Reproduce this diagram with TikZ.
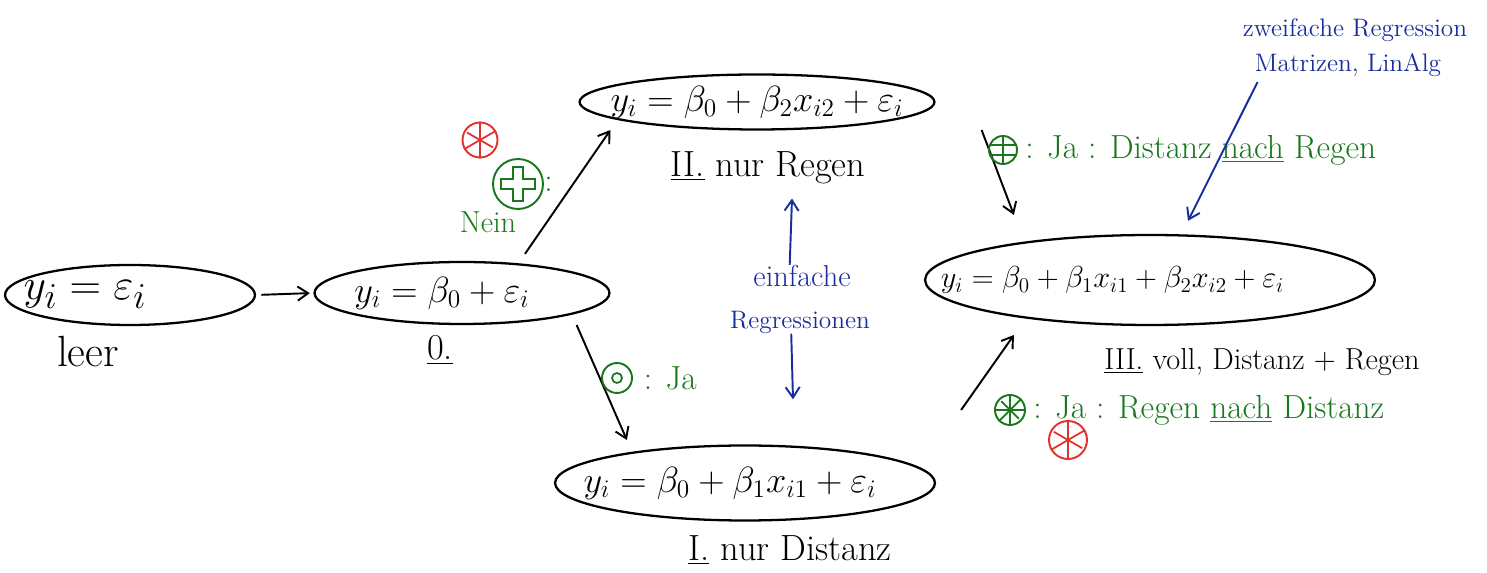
\documentclass[tikz,border=0pt]{standalone}
\usetikzlibrary{shapes.geometric,arrows.meta}
\definecolor{inkblue}{RGB}{25,45,155}
\definecolor{inkgreen}{RGB}{25,120,30}
\definecolor{inkred}{RGB}{225,50,45}
\tikzset{
  eqn/.style={ellipse, draw, line width=1.3pt, inner xsep=-4cm, inner ysep=-1cm, font=\huge},
  lbl/.style={font=\huge, inner sep=0pt},
  green note/.style={text=inkgreen, font=\fontsize{19}{22}\selectfont, inner sep=0pt},
  blue note/.style={text=inkblue, font=\Large, inner sep=0pt},
  ring/.style={circle, draw, line width=1.1pt, inner sep=0pt, minimum size=#1},
  flow/.style={-{Straight Barb[length=6pt,width=8pt]}, line width=1.1pt},
}
\begin{document}
\begin{tikzpicture}[x=0.02cm, y=-0.02cm]
  \useasboundingbox (0,0) rectangle (1487,573);
  % models
  \node[eqn, font=\Huge, minimum width=5cm, minimum height=1.2cm] (e0) at (130,295) {$y_i = \varepsilon_i$\hspace{1.8cm}\mbox{}};
  \node[eqn, minimum width=5.9cm, minimum height=1.24cm] (e1) at (462,293) {$y_i = \beta_0 + \varepsilon_i$\hspace{0.8cm}\mbox{}};
  \node[eqn, minimum width=7.1cm, minimum height=1.1cm] (e2) at (757,102) {$y_i = \beta_0 + \beta_2 x_{i2} + \varepsilon_i$};
  \node[eqn, minimum width=7.6cm, minimum height=1.5cm] (e3) at (745,483) {$y_i = \beta_0 + \beta_1 x_{i1} + \varepsilon_i$\hspace{0.6cm}\mbox{}};
  \node[eqn, font=\LARGE, minimum width=9cm, minimum height=1.8cm] (e4) at (1150,280) {$y_i = \beta_0 + \beta_1 x_{i1} + \beta_2 x_{i2} + \varepsilon_i$\hspace{1.5cm}\mbox{}};
  % labels
  \node[lbl, font=\Huge] (l0) at (88,352) {leer};
  \node[lbl] (l1) at (440,350) {\underline{0.}};
  \node[lbl] (l2) at (768,168) {\underline{II.} nur Regen};
  \node[lbl] (l3) at (790,550) {\underline{I.} nur Distanz};
  \node[lbl, font=\LARGE] (l4) at (1262,362) {\underline{III.} voll, Distanz + Regen};
  % arrows
  \draw[flow, shorten <=3pt, shorten >=2pt] (e0.east) -- (e1.west);
  \draw[flow] ([shift={(63,-7)}]e1.north) -- ([shift={(32,28)}]e2.west);
  \draw[flow] ([shift={(-34,32)}]e1.east) -- ([shift={(73,-43)}]e3.west);
  \draw[flow] ([shift={(46,28)}]e2.east) -- ([shift={(90,-65)}]e4.west);
  \draw[flow] ([shift={(25,-73)}]e3.east) -- ([shift={(90,55)}]e4.west);
  % upper left: Nein
  \node[ring=0.7cm, inkred] (r1) at (480,140) {};
  \draw[inkred, line width=1pt, shorten <=2pt, shorten >=2pt] (r1.90) -- (r1.270) (r1.30) -- (r1.210) (r1.150) -- (r1.330);
  \node[ring=1cm, inkgreen] (p1) at (518,184) {};
  \draw[inkgreen, line width=1pt] (p1.center) ++(-5,-17) -- ++(10,0) -- ++(0,12) -- ++(12,0) -- ++(0,10) -- ++(-12,0) -- ++(0,12) -- ++(-10,0) -- ++(0,-12) -- ++(-12,0) -- ++(0,-10) -- ++(12,0) -- cycle;
  \node[green note, anchor=west] (c1) at (p1.east) {:};
  \node[green note, font=\LARGE] (n1) at (488,222) {Nein};
  % lower left: Ja
  \node[ring=0.6cm, inkgreen] (d1) at (617,378) {};
  \draw[inkgreen, line width=1pt] (d1.center) circle (5);
  \node[green note, anchor=west] (j1) at ([xshift=6]d1.east) {: Ja};
  % upper right
  \node[ring=0.56cm, inkgreen] (b1) at (1003,150) {};
  \draw[inkgreen, line width=1pt] (b1.90) -- (b1.270) (b1.160) -- (b1.20) (b1.200) -- (b1.340);
  \node[green note, anchor=west] (j2) at ([xshift=4]b1.east) {: Ja : Distanz \underline{nach} Regen};
  % lower right
  \node[ring=0.6cm, inkgreen] (s1) at (1010,410) {};
  \draw[inkgreen, line width=1pt, shorten <=2pt, shorten >=2pt] (s1.0) -- (s1.180) (s1.45) -- (s1.225) (s1.90) -- (s1.270) (s1.135) -- (s1.315);
  \node[green note, anchor=west] (j3) at ([xshift=4]s1.east) {: Ja : Regen \underline{nach} Distanz};
  \node[ring=0.76cm, inkred] (r2) at (1068,440) {};
  \draw[inkred, line width=1pt, shorten <=2pt, shorten >=2pt] (r2.90) -- (r2.270) (r2.30) -- (r2.210) (r2.150) -- (r2.330);
  % blue notes
  \node[blue note, font=\LARGE] (ein) at (802,276) {einfache};
  \node[blue note] (reg) at (800,322) {Regressionen};
  \draw[flow, inkblue] ([xshift=-7]ein.north) -- ([shift={(24,14)}]l2.south);
  \draw[flow, inkblue] ([xshift=-5]reg.south) -- ([shift={(48,-45)}]e3.north);
  \node[blue note] (zwei) at (1355,30) {zweifache Regression};
  \node[blue note] (mat) at (1348,65) {Matrizen, LinAlg};
  \draw[flow, inkblue] ([shift={(3,17)}]mat.west) -- ([shift={(38,-13)}]e4.north);
\end{tikzpicture}
\end{document}
